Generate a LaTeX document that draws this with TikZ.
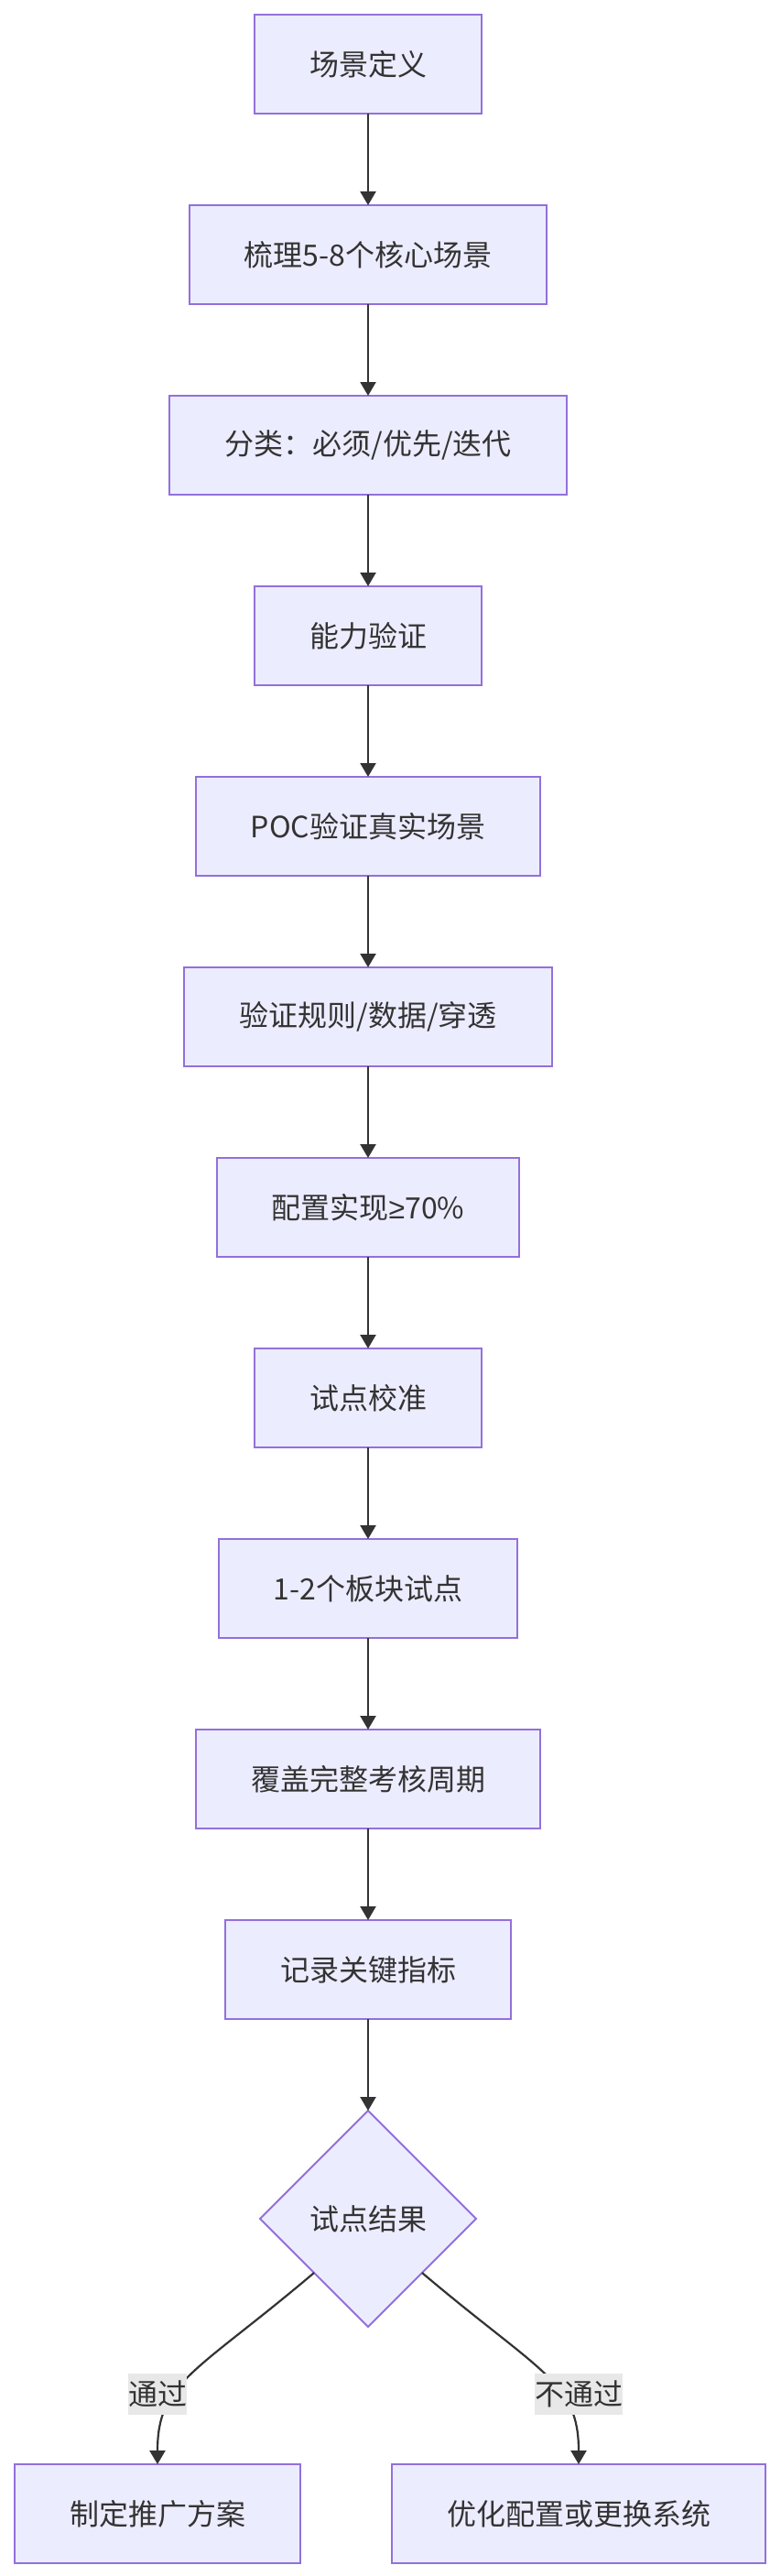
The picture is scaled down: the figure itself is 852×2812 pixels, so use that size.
\documentclass[tikz,border=0pt]{standalone}
\usepackage{fontspec}
\setmainfont{Noto Sans CJK SC}
\newfontfamily\symfont{Liberation Sans}
\usepackage{tikz}
\usetikzlibrary{arrows.meta,positioning,shapes.geometric}
\definecolor{nfill}{HTML}{ECECFF}
\definecolor{nline}{HTML}{9370DB}
\definecolor{ink}{HTML}{333333}
\definecolor{lblbg}{HTML}{E8E8E8}

\begin{document}
\begin{tikzpicture}[
    box/.style={draw=nline, fill=nfill, line width=2pt, minimum height=108pt, inner xsep=60pt,
                inner ysep=0pt, outer sep=0pt, text=ink, font=\fontsize{32pt}{38pt}\selectfont},
    dec/.style={diamond, draw=nline, fill=nfill, line width=2pt, minimum width=236pt,
                minimum height=236pt, inner sep=0pt, outer sep=0pt, text=ink,
                font=\fontsize{32pt}{38pt}\selectfont},
    lbl/.style={fill=lblbg, inner xsep=0pt, inner ysep=0pt, outer sep=0pt, minimum height=45pt,
                text=ink, font=\fontsize{32pt}{38pt}\selectfont},
    arr/.style={-{Triangle[length=15pt, width=17pt]}, line width=2.2pt, ink}]
    \useasboundingbox (0,0) rectangle (852pt,-2812pt);
    \node[box, anchor=north] (def) at (402pt,-16pt) {场景定义};
    \node[box, below=100pt of def] (list) {梳理5-8个核心场景};
    \node[box, below=100pt of list] (cls) {分类：必须/优先/迭代};
    \node[box, below=100pt of cls] (cap) {能力验证};
    \node[box, below=100pt of cap] (poc) {POC验证真实场景};
    \node[box, below=100pt of poc] (chk) {验证规则/数据/穿透};
    \node[box, below=100pt of chk] (cfg) {配置实现{\symfont ≥}70\%};
    \node[box, below=100pt of cfg] (cal) {试点校准};
    \node[box, below=100pt of cal] (pilot) {1-2个板块试点};
    \node[box, below=100pt of pilot] (cycle) {覆盖完整考核周期};
    \node[box, below=100pt of cycle] (kpi) {记录关键指标};
    \node[dec, below=100pt of kpi] (res) {试点结果};
    \node[box, below=150pt of res, xshift=-230pt] (pass) {制定推广方案};
    \node[box, below=150pt of res, xshift=230pt] (fail) {优化配置或更换系统};
    \draw[arr] (def) -- (list);
    \draw[arr] (list) -- (cls);
    \draw[arr] (cls) -- (cap);
    \draw[arr] (cap) -- (poc);
    \draw[arr] (poc) -- (chk);
    \draw[arr] (chk) -- (cfg);
    \draw[arr] (cfg) -- (cal);
    \draw[arr] (cal) -- (pilot);
    \draw[arr] (pilot) -- (cycle);
    \draw[arr] (cycle) -- (kpi);
    \draw[arr] (kpi) -- (res);
    \draw[arr] (res.south west) .. controls +(-130pt,-110pt) and +(0pt,90pt) .. (pass.north);
    \draw[arr] (res.south east) .. controls +(130pt,-110pt) and +(0pt,90pt) .. (fail.north);
    \node[lbl, above=54pt of pass] (lpass) {通过};
    \node[lbl, above=54pt of fail] (lfail) {不通过};
  \end{tikzpicture}
\end{document}
